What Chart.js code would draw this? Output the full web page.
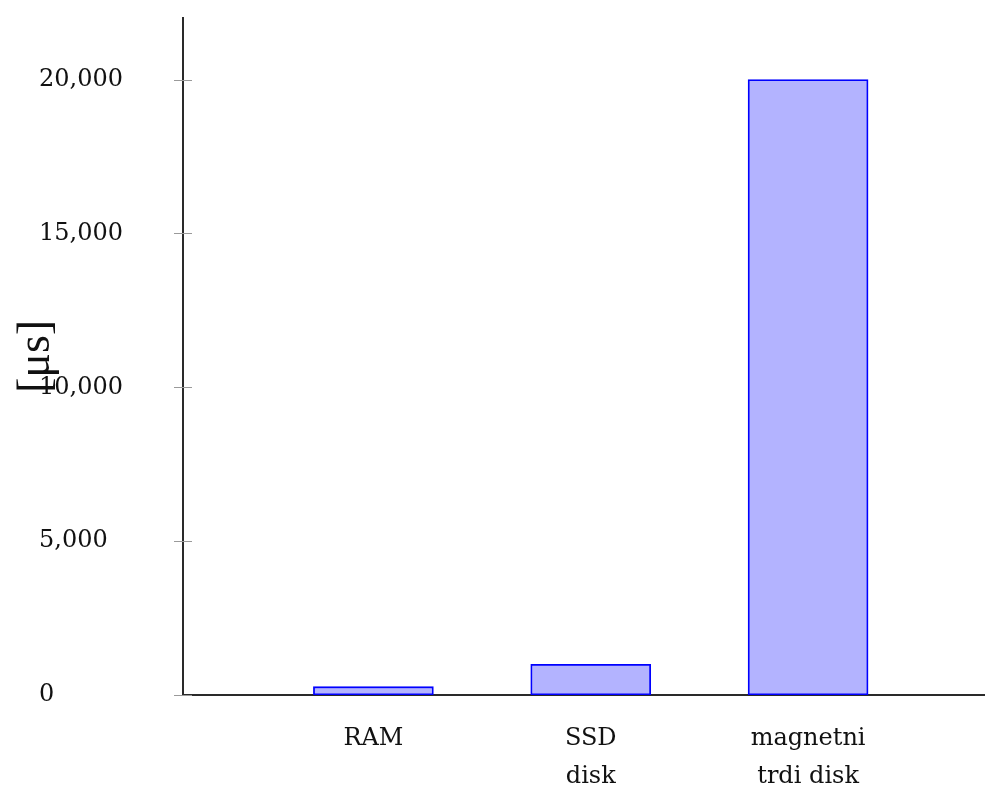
<!DOCTYPE html>
<html>
<head>
<meta charset="utf-8">
<script src="https://cdn.jsdelivr.net/npm/chart.js@4/dist/chart.umd.min.js"></script>
<style>
	html, body { margin: 0; padding: 0; background: #fff; }
	#wrap { width: 985px; height: 787px; }
</style>
</head>
<body>
<div id="wrap"><canvas id="chart" width="985" height="787"></canvas></div>
<script>
// podatki
const categories = [['RAM'], ['SSD', 'disk'], ['magnetni', 'trdi disk']];
const positions = [1, 2, 3];
const latency = [270, 1000, 20000];
const yTicks = [0, 5000, 10000, 15000, 20000];

const serif = "'DejaVu Serif', serif";

// kratke crtice cez y os (kot v pgfplots)
const tickMarks = {
	id: 'tickMarks',
	afterDraw(chart) {
		const { ctx, scales } = chart;
		const y = scales.y;
		const x0 = chart.chartArea.left;
		ctx.save();
		ctx.strokeStyle = '#9a9a9a';
		ctx.lineWidth = 1;
		y.ticks.forEach(t => {
			const py = Math.round(y.getPixelForValue(t.value)) + 0.5;
			ctx.beginPath();
			ctx.moveTo(x0 - 9, py);
			ctx.lineTo(x0 + 9, py);
			ctx.stroke();
		});
		ctx.restore();
	}
};

Chart.defaults.color = '#111';

new Chart(document.getElementById('chart'), {
	type: 'bar',
	data: {
		datasets: [{
			data: positions.map((p, i) => ({ x: p, y: latency[i] })),
			backgroundColor: 'rgb(179, 179, 255)',
			borderColor: 'rgb(0, 0, 255)',
			borderWidth: 1.8,
			borderSkipped: false,
			barThickness: 120
		}]
	},
	options: {
		responsive: false,
		animation: false,
		locale: 'en-US',
		layout: { padding: { left: 39, top: 18, right: 0, bottom: 0 } },
		plugins: {
			legend: { display: false },
			tooltip: { enabled: false }
		},
		scales: {
			x: {
				type: 'linear',
				min: 0.124,
				max: 3.814,
				offset: false,
				grid: { display: false, drawTicks: false, offset: false },
				border: { display: true, color: '#2a2a2a', width: 2 },
				afterBuildTicks: s => { s.ticks = positions.map(v => ({ value: v })); },
				afterFit: s => { s.height = 92; },
				ticks: {
					padding: 25,
					font: { family: serif, size: 24, lineHeight: 1.583 },
					color: '#111',
					callback: (v) => categories[positions.indexOf(v)] || ''
				}
			},
			y: {
				min: 0,
				max: 22000,
				grid: { display: false, drawTicks: false },
				border: { display: true, color: '#2a2a2a', width: 2 },
				afterBuildTicks: s => { s.ticks = yTicks.map(v => ({ value: v })); },
				afterFit: s => { s.width = 144; },
				ticks: {
					crossAlign: 'far',
					font: { family: serif, size: 24 },
					color: '#111',
					callback: v => v.toLocaleString('en-US')
				},
				title: {
					display: true,
					text: '[μs]',
					color: '#111',
					font: { family: "'Liberation Serif', serif", size: 46, lineHeight: 1 },
					padding: { top: -25, bottom: 0 }
				}
			}
		}
	},
	plugins: [tickMarks]
});
</script>
</body>
</html>
